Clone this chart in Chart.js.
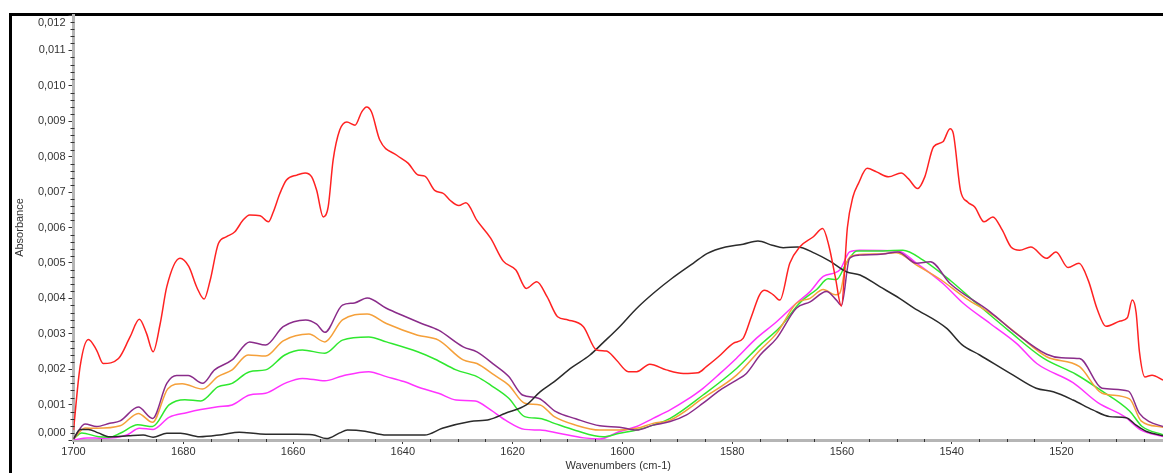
<!DOCTYPE html>
<html>
<head>
<meta charset="utf-8">
<script src="https://cdn.jsdelivr.net/npm/chart.js@4/dist/chart.umd.min.js"></script>
<style>
  html, body { margin: 0; padding: 0; background: #fff; }
  #wrap { position: relative; width: 1163px; height: 473px; }
</style>
</head>
<body>
<div id="wrap"><canvas id="spec"></canvas></div>
<script>
// tick labels
const xTicks = [1700, 1680, 1660, 1640, 1620, 1600, 1580, 1560, 1540, 1520];
const yTicks = [0, 0.001, 0.002, 0.003, 0.004, 0.005, 0.006, 0.007, 0.008, 0.009, 0.010, 0.011, 0.012];

// spectra (wavenumber, absorbance)
const redWn = [1700, 1698.8, 1697.3, 1695.8, 1694.6, 1691.8, 1689.7, 1688.0, 1686.7, 1685.5, 1684.2, 1683.0, 1680.6, 1679.0, 1677.5, 1676.2, 1675.1, 1673.6, 1672.1, 1670.6, 1669.1, 1667.9, 1666.0, 1664.5, 1663.6, 1662.4, 1661.2, 1659.3, 1657.8, 1656.6, 1655.7, 1654.5, 1653.6, 1652.7, 1651.5, 1650.2, 1648.7, 1647.5, 1646.6, 1645.7, 1644.2, 1641.1, 1639.0, 1637.2, 1636.0, 1634.2, 1632.6, 1631.4, 1629.8, 1628.5, 1626.5, 1624.0, 1621.7, 1619.4, 1617.5, 1615.6, 1613.7, 1611.8, 1609.9, 1607.1, 1604.7, 1602.9, 1601.1, 1598.9, 1597.4, 1595.0, 1592.0, 1588.9, 1586.2, 1584.7, 1582.5, 1579.8, 1578.0, 1576.5, 1575.0, 1574.1, 1572.5, 1571.3, 1569.5, 1567.7, 1565.2, 1563.5, 1562.4, 1561.2, 1560.1, 1559.0, 1558.0, 1557.0, 1555.4, 1553.7, 1551.5, 1549.2, 1547.9, 1546.2, 1544.9, 1543.3, 1541.6, 1540.3, 1539.7, 1538.4, 1537.1, 1535.8, 1534.1, 1532.5, 1530.8, 1529.2, 1527.6, 1525.6, 1522.7, 1521.0, 1518.8, 1516.8, 1515.1, 1513.5, 1511.9, 1509.3, 1508.0, 1507.1, 1506.4, 1505.8, 1504.8, 1503.5, 1501.5];
const redAbs = [0.00028, 0.00207, 0.00284, 0.00254, 0.00216, 0.00230, 0.00291, 0.00341, 0.00301, 0.00249, 0.00329, 0.00433, 0.00513, 0.00490, 0.00430, 0.00398, 0.00451, 0.00555, 0.00574, 0.00588, 0.00621, 0.00635, 0.00633, 0.00616, 0.00644, 0.00696, 0.00734, 0.00748, 0.00754, 0.00743, 0.00705, 0.00630, 0.00658, 0.00790, 0.00875, 0.00898, 0.00889, 0.00926, 0.00940, 0.00926, 0.00847, 0.00804, 0.00781, 0.00748, 0.00745, 0.00705, 0.00696, 0.00677, 0.00662, 0.00670, 0.00620, 0.00570, 0.00505, 0.00480, 0.00428, 0.00447, 0.00404, 0.00348, 0.00339, 0.00320, 0.00254, 0.00251, 0.00226, 0.00193, 0.00193, 0.00214, 0.00198, 0.00188, 0.00190, 0.00207, 0.00235, 0.00273, 0.00287, 0.00348, 0.00410, 0.00423, 0.00410, 0.00395, 0.00499, 0.00545, 0.00574, 0.00597, 0.00550, 0.00460, 0.00378, 0.00600, 0.00686, 0.00724, 0.00767, 0.00757, 0.00743, 0.00754, 0.00738, 0.00710, 0.00743, 0.00828, 0.00842, 0.00879, 0.00865, 0.00705, 0.00672, 0.00658, 0.00616, 0.00630, 0.00593, 0.00545, 0.00536, 0.00545, 0.00513, 0.00531, 0.00487, 0.00499, 0.00450, 0.00370, 0.00321, 0.00336, 0.00345, 0.00395, 0.00360, 0.00250, 0.00178, 0.00183, 0.00169];

const blackWn = [1700, 1698.8, 1697.3, 1695.5, 1693.4, 1690.0, 1687.3, 1685.5, 1683.0, 1680.5, 1677.0, 1673.0, 1669.8, 1666.0, 1659.6, 1656.5, 1653.9, 1651.5, 1650.1, 1646.9, 1643.0, 1636.0, 1632.8, 1627.7, 1624.2, 1621.4, 1617.5, 1615.0, 1612.4, 1609.2, 1605.9, 1603.5, 1600.5, 1597.5, 1594.3, 1591.0, 1587.1, 1584.5, 1581.2, 1578.0, 1575.3, 1572.7, 1570.7, 1568.1, 1564.9, 1562.2, 1559.2, 1556.7, 1553.1, 1549.5, 1547.0, 1540.9, 1538.2, 1534.9, 1528.8, 1524.6, 1521.5, 1517.9, 1514.3, 1511.2, 1508.2, 1506.4, 1504.5, 1501.5];
const blackAbs = [0.00003, 0.00030, 0.00030, 0.00020, 0.00009, 0.00012, 0.00014, 0.00008, 0.00019, 0.00019, 0.00009, 0.00015, 0.00022, 0.00017, 0.00016, 0.00015, 0.00004, 0.00020, 0.00028, 0.00025, 0.00014, 0.00014, 0.00033, 0.00052, 0.00058, 0.00075, 0.00099, 0.00136, 0.00165, 0.00205, 0.00240, 0.00275, 0.00320, 0.00370, 0.00415, 0.00456, 0.00499, 0.00527, 0.00545, 0.00553, 0.00562, 0.00550, 0.00543, 0.00545, 0.00527, 0.00505, 0.00475, 0.00466, 0.00433, 0.00400, 0.00374, 0.00315, 0.00270, 0.00240, 0.00183, 0.00146, 0.00136, 0.00113, 0.00085, 0.00066, 0.00063, 0.00042, 0.00024, 0.00012];

const purpleWn = [1700, 1697.9, 1695.8, 1693.4, 1691.5, 1688.2, 1685.6, 1683.0, 1681.2, 1679.1, 1676.5, 1674.3, 1671.1, 1667.9, 1665.0, 1661.8, 1657.7, 1655.7, 1654.2, 1651.0, 1648.8, 1646.5, 1643.0, 1639.8, 1636.6, 1633.5, 1629.0, 1626.5, 1623.3, 1620.7, 1618.2, 1615.3, 1612.1, 1608.5, 1604.1, 1600.5, 1597.4, 1594.4, 1591.3, 1588.3, 1585.3, 1582.2, 1579.2, 1577.4, 1574.9, 1571.9, 1568.3, 1565.8, 1562.8, 1561.0, 1560.1, 1558.6, 1556.8, 1552.5, 1549.8, 1546.4, 1543.9, 1540.3, 1533.0, 1528.2, 1522.7, 1520.0, 1516.7, 1512.6, 1507.8, 1505.8, 1504.0, 1501.5];
const purpleAbs = [0.00003, 0.00045, 0.00038, 0.00047, 0.00054, 0.00093, 0.00061, 0.00160, 0.00182, 0.00182, 0.00160, 0.00198, 0.00226, 0.00277, 0.00268, 0.00320, 0.00339, 0.00327, 0.00304, 0.00381, 0.00387, 0.00401, 0.00372, 0.00350, 0.00329, 0.00310, 0.00263, 0.00249, 0.00212, 0.00179, 0.00127, 0.00118, 0.00080, 0.00060, 0.00040, 0.00036, 0.00028, 0.00042, 0.00052, 0.00071, 0.00104, 0.00141, 0.00169, 0.00188, 0.00240, 0.00287, 0.00372, 0.00390, 0.00419, 0.00395, 0.00380, 0.00513, 0.00522, 0.00525, 0.00531, 0.00499, 0.00503, 0.00442, 0.00362, 0.00300, 0.00242, 0.00232, 0.00230, 0.00146, 0.00138, 0.00075, 0.00052, 0.00038];

const orangeWn = [1700, 1697.9, 1695.8, 1691.5, 1688.2, 1685.6, 1682.8, 1680.2, 1676.5, 1673.7, 1671.1, 1668.2, 1665.0, 1661.8, 1657.1, 1654.2, 1651.0, 1646.5, 1643.0, 1637.3, 1633.5, 1629.0, 1626.5, 1623.3, 1620.7, 1617.8, 1615.0, 1612.4, 1608.5, 1604.1, 1600.5, 1597.4, 1594.4, 1591.3, 1585.3, 1579.2, 1574.9, 1571.9, 1568.3, 1565.8, 1563.4, 1561.2, 1560.4, 1559.2, 1557.6, 1553.1, 1550.1, 1546.4, 1542.3, 1537.4, 1532.5, 1528.2, 1522.7, 1516.7, 1512.6, 1507.6, 1505.5, 1501.5];
const orangeAbs = [0.00003, 0.00034, 0.00033, 0.00040, 0.00075, 0.00050, 0.00145, 0.00159, 0.00144, 0.00179, 0.00198, 0.00240, 0.00237, 0.00280, 0.00299, 0.00277, 0.00339, 0.00356, 0.00329, 0.00296, 0.00282, 0.00226, 0.00216, 0.00183, 0.00155, 0.00104, 0.00099, 0.00066, 0.00042, 0.00028, 0.00028, 0.00033, 0.00047, 0.00056, 0.00118, 0.00183, 0.00254, 0.00301, 0.00386, 0.00400, 0.00425, 0.00410, 0.00414, 0.00499, 0.00522, 0.00525, 0.00529, 0.00494, 0.00456, 0.00400, 0.00353, 0.00301, 0.00235, 0.00207, 0.00132, 0.00116, 0.00054, 0.00036];

const greenWn = [1700, 1698.5, 1695.4, 1693.5, 1691.5, 1688.3, 1685.6, 1682.6, 1679.7, 1676.8, 1673.7, 1671.1, 1667.9, 1665.0, 1661.5, 1658.3, 1654.2, 1651.0, 1646.2, 1643.0, 1637.3, 1634.1, 1630.3, 1626.5, 1624.0, 1620.7, 1617.8, 1615.0, 1612.4, 1608.5, 1603.5, 1600.5, 1597.4, 1594.4, 1591.3, 1585.3, 1579.2, 1574.9, 1571.2, 1567.5, 1564.6, 1562.5, 1561.0, 1559.2, 1557.3, 1552.5, 1548.9, 1545.2, 1540.3, 1535.5, 1529.4, 1523.3, 1517.3, 1513.0, 1507.6, 1505.3, 1501.5];
const greenAbs = [0.00003, 0.00020, 0.00009, 0.00008, 0.00019, 0.00043, 0.00038, 0.00099, 0.00114, 0.00110, 0.00150, 0.00160, 0.00193, 0.00198, 0.00240, 0.00254, 0.00245, 0.00282, 0.00291, 0.00277, 0.00249, 0.00228, 0.00198, 0.00179, 0.00155, 0.00118, 0.00066, 0.00061, 0.00047, 0.00027, 0.00009, 0.00019, 0.00028, 0.00042, 0.00061, 0.00127, 0.00202, 0.00268, 0.00320, 0.00390, 0.00425, 0.00455, 0.00453, 0.00499, 0.00534, 0.00534, 0.00536, 0.00508, 0.00451, 0.00386, 0.00306, 0.00231, 0.00185, 0.00142, 0.00082, 0.00038, 0.00015];

const magentaWn = [1700, 1697.5, 1694.7, 1690.3, 1688.0, 1685.5, 1682.6, 1679.4, 1676.8, 1673.7, 1671.1, 1667.9, 1665.0, 1661.5, 1658.3, 1654.2, 1651.0, 1646.2, 1643.0, 1639.8, 1636.6, 1633.5, 1630.3, 1626.8, 1624.0, 1621.3, 1617.8, 1615.0, 1611.6, 1607.0, 1604.1, 1600.5, 1597.4, 1594.4, 1591.3, 1588.3, 1585.3, 1582.2, 1579.2, 1575.6, 1571.9, 1568.3, 1565.8, 1563.4, 1560.4, 1558.6, 1556.8, 1549.8, 1546.4, 1541.6, 1537.9, 1533.0, 1528.2, 1524.5, 1517.9, 1513.3, 1508.5, 1505.5, 1501.5];
const magentaAbs = [0.00000, 0.00006, 0.00005, 0.00014, 0.00033, 0.00030, 0.00064, 0.00077, 0.00086, 0.00094, 0.00099, 0.00127, 0.00132, 0.00160, 0.00174, 0.00167, 0.00181, 0.00193, 0.00179, 0.00165, 0.00146, 0.00132, 0.00113, 0.00110, 0.00085, 0.00056, 0.00030, 0.00028, 0.00019, 0.00006, 0.00003, 0.00024, 0.00038, 0.00061, 0.00085, 0.00113, 0.00146, 0.00188, 0.00231, 0.00287, 0.00334, 0.00386, 0.00419, 0.00462, 0.00480, 0.00531, 0.00536, 0.00534, 0.00499, 0.00442, 0.00386, 0.00329, 0.00273, 0.00216, 0.00162, 0.00105, 0.00066, 0.00028, 0.00010];

const series = [
    { name: 'red',     wn: redWn,     abs: redAbs,     color: '#ff2222' },
    { name: 'black',   wn: blackWn,   abs: blackAbs,   color: '#2b2b2b' },
    { name: 'purple',  wn: purpleWn,  abs: purpleAbs,  color: '#8a2c8a' },
    { name: 'orange',  wn: orangeWn,  abs: orangeAbs,  color: '#f5a03a' },
    { name: 'green',   wn: greenWn,   abs: greenAbs,   color: '#2fe82f' },
    { name: 'magenta', wn: magentaWn, abs: magentaAbs, color: '#ff33ff' }
];

const tickFont = { family: "'Liberation Sans', Arial, sans-serif", size: 11 };
const fmtAbs = v => v.toFixed(3).replace('.', ',');
// first and last y labels sit inside the frame, not centred on their tick
const isEdge = v => v === yTicks[0] || v === yTicks[yTicks.length - 1];

// outer frame, small ticks, and the two clamped y labels
const frameAndMinor = {
    id: 'frameAndMinor',
    beforeDraw(c) {
        const ctx = c.ctx;
        ctx.save();
        ctx.fillStyle = '#000';
        ctx.fillRect(9, 13, c.width - 9, 3);
        ctx.fillRect(9, 13, 3, c.height - 13);
        ctx.restore();
    },
    afterDraw(c) {
        const ctx = c.ctx, x = c.scales.x, y = c.scales.y, a = c.chartArea;
        ctx.save();
        ctx.strokeStyle = '#333';
        ctx.lineWidth = 1;
        ctx.beginPath();
        for (let i = 0; i <= 60; i++) {
            if (i % 5 === 0) continue;
            const py = Math.round(y.getPixelForValue(i * 0.0002)) + 0.5;
            ctx.moveTo(a.left - 3, py); ctx.lineTo(a.left + 1, py);
        }
        for (let v = 1700; v > x.min; v -= 5) {
            if (v % 20 === 0) continue;
            const px = Math.round(x.getPixelForValue(v)) + 0.5;
            ctx.moveTo(px, a.bottom - 1); ctx.lineTo(px, a.bottom + 2);
        }
        ctx.stroke();

        ctx.fillStyle = '#333';
        ctx.font = `${tickFont.size}px ${tickFont.family}`;
        ctx.textAlign = 'right';
        ctx.textBaseline = 'middle';
        const lo = yTicks[0], hi = yTicks[yTicks.length - 1];
        ctx.fillText(fmtAbs(hi), a.left - 8, y.getPixelForValue(hi) + 8);
        ctx.fillText(fmtAbs(lo), a.left - 8, y.getPixelForValue(lo) - 7);
        ctx.restore();
    }
};

new Chart(document.getElementById('spec'), {
    type: 'line',
    data: {
        datasets: series.map(s => ({
            label: s.name,
            data: s.wn.map((w, i) => ({ x: w, y: s.abs[i] })),
            borderColor: s.color,
            borderWidth: 1.5,
            pointRadius: 0,
            cubicInterpolationMode: 'monotone',
            fill: false
        }))
    },
    options: {
        responsive: true,
        maintainAspectRatio: false,
        animation: false,
        layout: { padding: { top: 15, left: 0, right: 0, bottom: 0 } },
        plugins: { legend: { display: false }, tooltip: { enabled: false } },
        scales: {
            x: {
                type: 'linear',
                reverse: true,
                min: 1501.5,
                max: 1700,
                afterFit: s => { s.height = 33; },
                afterBuildTicks: s => { s.ticks = xTicks.map(v => ({ value: v })); },
                ticks: { font: tickFont, color: '#333', padding: 1, maxRotation: 0, autoSkip: false,
                         callback: v => String(v) },
                grid: { drawOnChartArea: false, drawTicks: true, tickLength: 4, tickColor: '#333' },
                border: { display: true, color: '#b5b5b5', width: 3 },
                title: { display: true, text: 'Wavenumbers (cm-1)', font: tickFont, color: '#333', padding: { top: 0, bottom: 0 } }
            },
            y: {
                min: 0,
                max: 0.012,
                afterFit: s => { s.width = 73.5; },
                afterBuildTicks: s => { s.ticks = yTicks.map(v => ({ value: v })); },
                ticks: {
                    font: tickFont, color: '#333', padding: 3, autoSkip: false,
                    callback: v => isEdge(v) ? '' : fmtAbs(v)
                },
                grid: { drawOnChartArea: false, drawTicks: true, tickLength: 5, tickColor: '#333' },
                border: { display: true, color: '#b5b5b5', width: 3 },
                title: { display: true, text: 'Absorbance', font: tickFont, color: '#333', padding: { top: 13, bottom: 0 } }
            }
        }
    },
    plugins: [frameAndMinor]
});
</script>
</body>
</html>
